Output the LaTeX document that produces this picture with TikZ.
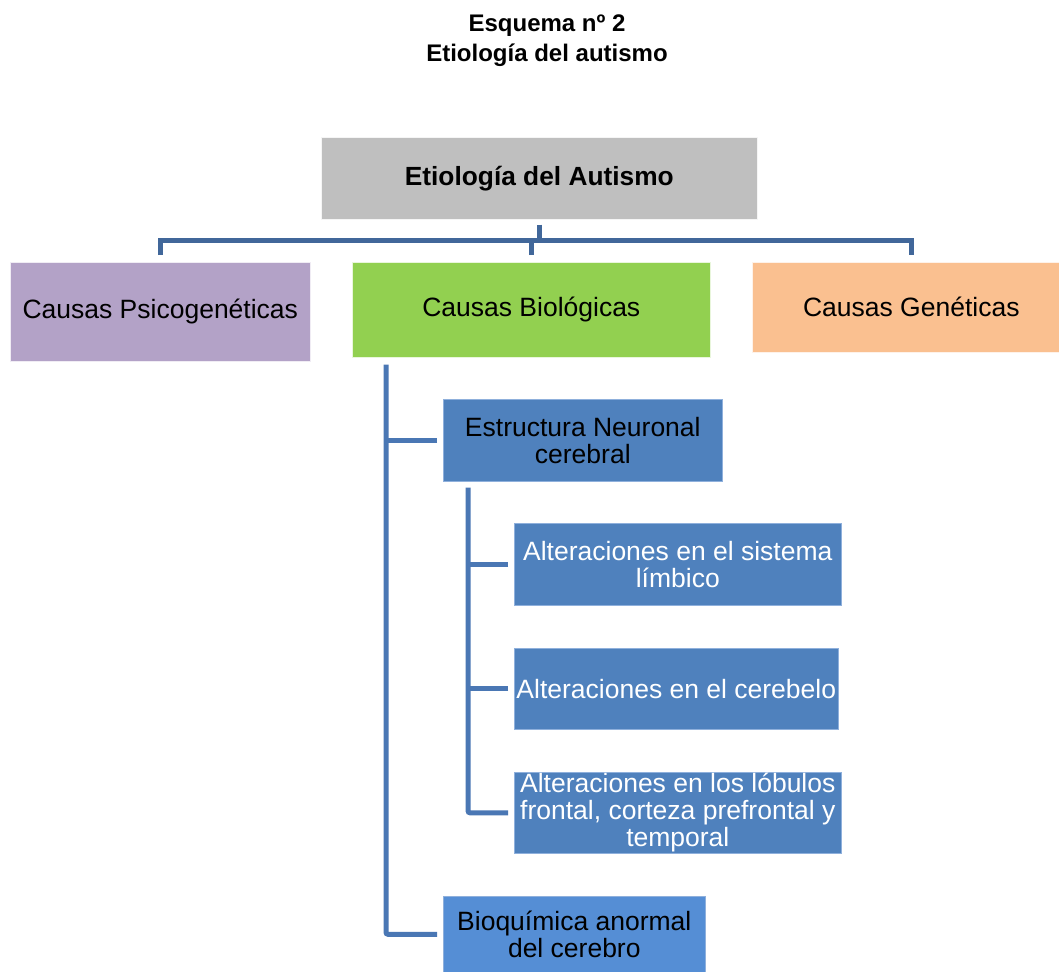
\documentclass[tikz,border=0pt]{standalone}
\usepackage{fontspec}
\setmainfont{Liberation Sans}
\definecolor{boxgray}{HTML}{BFBFBF}
\definecolor{boxpurple}{HTML}{B3A2C7}
\definecolor{boxgreen}{HTML}{92D050}
\definecolor{boxorange}{HTML}{FAC090}
\definecolor{boxblue}{HTML}{4F81BD}
\definecolor{boxlightblue}{HTML}{558ED5}
\definecolor{busdark}{HTML}{41679A}
\definecolor{branchblue}{HTML}{4A77B4}
\definecolor{edgeblue}{HTML}{8FB0DC}
\begin{document}
\begin{tikzpicture}[x=1pt,y=-1pt,
  box/.style={anchor=north west, inner sep=0pt, align=center,
    font=\fontsize{26.5}{27}\selectfont},
  graybox/.style={box, fill=boxgray, draw=white!85!boxgray, line width=0.6pt,
    font=\fontsize{26.3}{28}\selectfont\bfseries},
  purplebox/.style={box, fill=boxpurple, draw=white!80!boxpurple, line width=0.6pt},
  greenbox/.style={box, fill=boxgreen, draw=white!80!boxgreen, line width=0.6pt},
  orangebox/.style={box, fill=boxorange, draw=white!80!boxorange, line width=0.6pt},
  bluebox/.style={box, fill=boxblue, draw=edgeblue, line width=0.6pt},
  lightbluebox/.style={box, fill=boxlightblue, draw=edgeblue, line width=0.6pt},
  busline/.style={draw=busdark, line width=5pt},
  branchline/.style={draw=branchblue, line width=5pt, rounded corners=2pt}]

% page frame
\fill[white] (0,0) rectangle (1059,971);
\useasboundingbox (0,0) rectangle (1059,971);

% heading (anchored at the baseline of its last line)
\node[anchor=base, align=center, font=\fontsize{24}{30}\selectfont\bfseries]
  (title) at (547,62) {Esquema nº 2\\Etiología del autismo};

% root and first level
\node[graybox, minimum width=436pt, minimum height=82pt] (root) at (321,137)
  {Etiología del Autismo};
\node[purplebox, minimum width=300pt, minimum height=99pt] (psy) at (10,262)
  {Causas Psicogenéticas};
\node[greenbox, minimum width=358pt, minimum height=95pt] (bio) at (352,262)
  {Causas Biológicas};
\node[orangebox, minimum width=318pt, minimum height=90pt] (gen) at (752,262)
  {Causas Genéticas};

% biological branch
\node[bluebox, minimum width=279pt, minimum height=82pt] (est) at (443,399)
  {Estructura Neuronal\\cerebral};
\node[bluebox, text=white, minimum width=327pt, minimum height=82pt] (lim) at (514,523)
  {Alteraciones en el sistema\\límbico};
\node[bluebox, text=white, minimum width=324pt, minimum height=81pt] (cer) at (514,648)
  {Alteraciones en el cerebelo};
\node[bluebox, text=white, minimum width=327pt, minimum height=81pt] (lob) at (514,772)
  {Alteraciones en los lóbulos\\frontal, corteza prefrontal y\\temporal};
\node[lightbluebox, minimum width=262pt, minimum height=76pt] (bq) at (443,896)
  {Bioquímica anormal\\del cerebro};

% connectors below the root
\draw[busline] ([yshift=-5pt]root.south) -- ++(0,16);
\draw[busline] ([yshift=7pt]psy.north) -- ++(0,-15) -| ([yshift=7pt]gen.north);
\draw[busline] ([yshift=7pt]bio.north) -- ++(0,-15);

% connectors of the biological branch
\draw[branchline] ([xshift=34pt,yshift=-7pt]bio.south west) |- ([xshift=-6pt]bq.west);
\draw[branchline] ([xshift=-6pt]est.west) -- ++(-51,0);
\draw[branchline] ([xshift=25pt,yshift=-6pt]est.south west) |- ([xshift=-6pt]lob.west);
\draw[branchline] ([xshift=-6pt]lim.west) -- ++(-40,0);
\draw[branchline] ([xshift=-6pt]cer.west) -- ++(-40,0);
\end{tikzpicture}
\end{document}
